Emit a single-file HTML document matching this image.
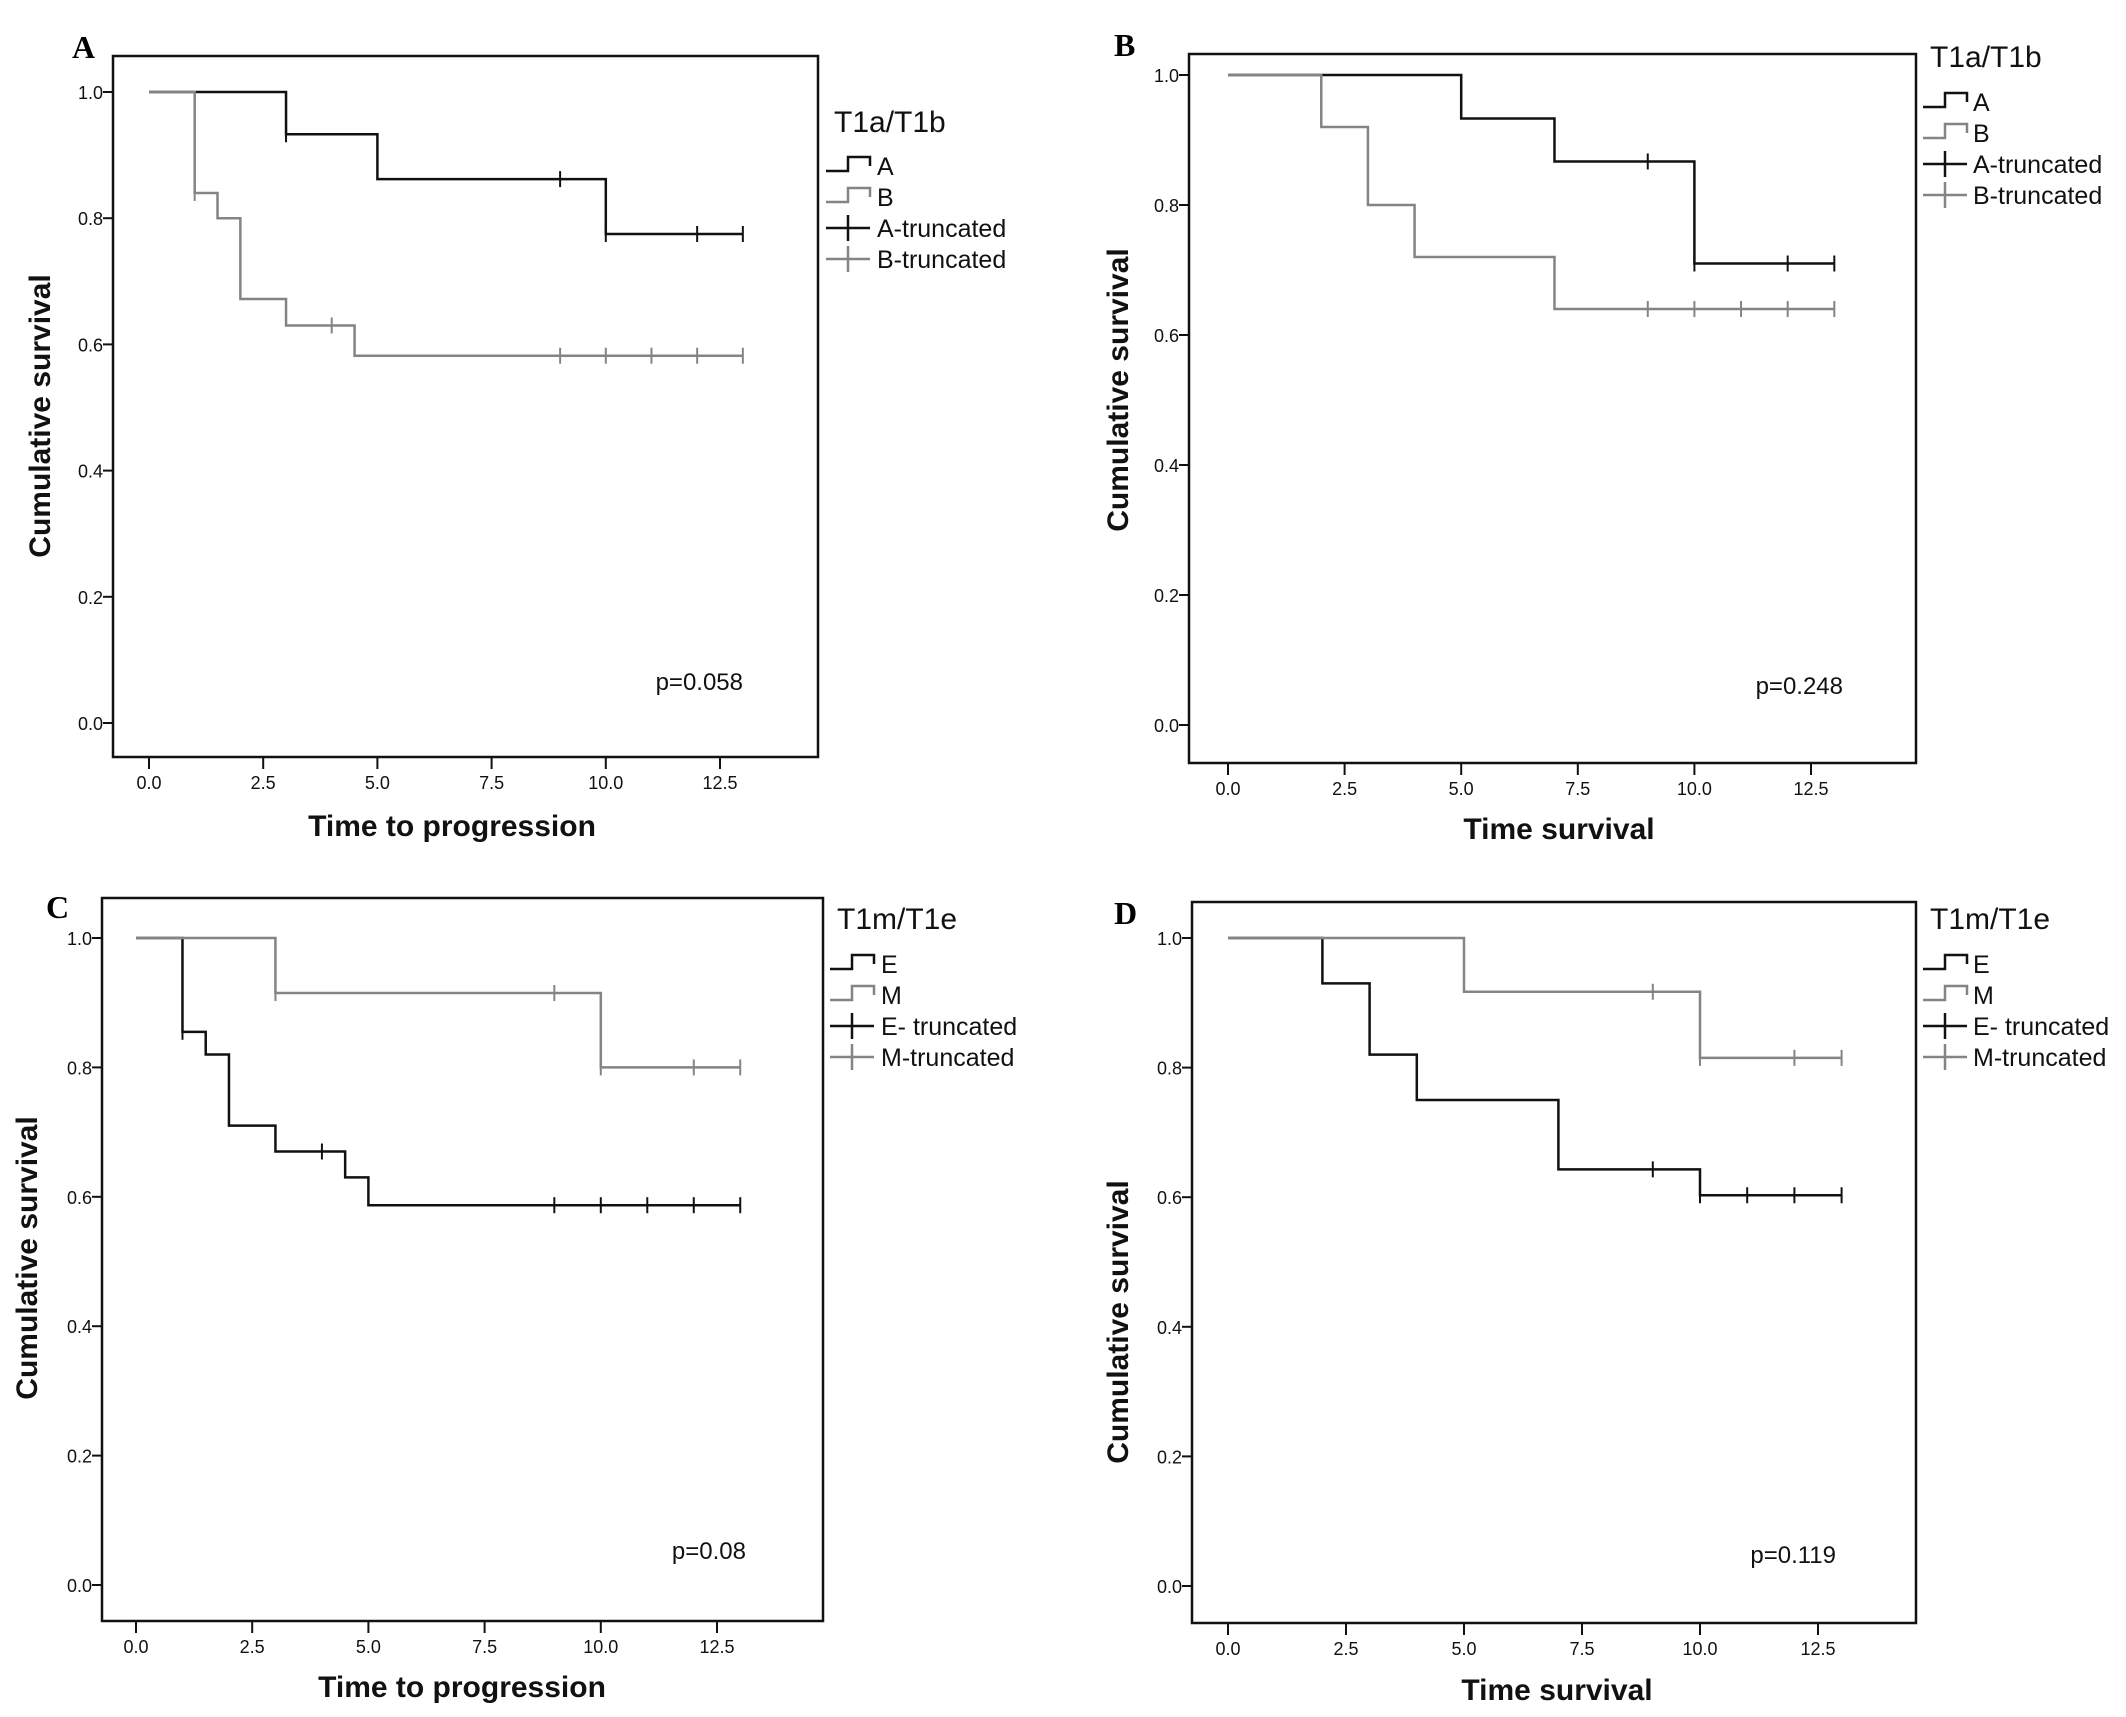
<!DOCTYPE html>
<html><head><meta charset="utf-8"><style>
body{margin:0;background:#fff;}
svg{display:block;font-family:"Liberation Sans",Arial,sans-serif;}
</style></head><body>
<svg id="fig" width="2126" height="1717" viewBox="0 0 2126 1717" xmlns="http://www.w3.org/2000/svg"></svg>
<script>
// Panel A data
const aA_t=[3,5,10];      const aA_s=[0.933,0.862,0.775];  const aA_c=[3,9,10,12,13];
const aB_t=[1,1.5,2,3,4.5]; const aB_s=[0.84,0.80,0.672,0.63,0.582]; const aB_c=[1,4,9,10,11,12,13];
// Panel B data
const bA_t=[5,7,10];      const bA_s=[0.933,0.867,0.71];   const bA_c=[9,10,12,13];
const bB_t=[2,3,4,7];     const bB_s=[0.92,0.80,0.72,0.64]; const bB_c=[9,10,11,12,13];
// Panel C data
const cE_t=[1,1.5,2,3,4.5,5]; const cE_s=[0.855,0.82,0.71,0.67,0.63,0.587]; const cE_c=[1,4,9,10,11,12,13];
const cM_t=[3,10];        const cM_s=[0.915,0.80];         const cM_c=[3,9,10,12,13];
// Panel D data
const dE_t=[2,3,4,7,10];  const dE_s=[0.93,0.82,0.75,0.643,0.603]; const dE_c=[9,10,11,12,13];
const dM_t=[5,10];        const dM_s=[0.917,0.815];        const dM_c=[9,10,12,13];
const xTicks=[0,2.5,5,7.5,10,12.5];
const xTickLabels=["0.0","2.5","5.0","7.5","10.0","12.5"];
const yTicks=[0,0.2,0.4,0.6,0.8,1.0];
const yTickLabels=["0.0","0.2","0.4","0.6","0.8","1.0"];

const BLACK="#111", GRAY="#848484";
const NS="http://www.w3.org/2000/svg";
const svg=document.getElementById('fig');
function el(tag,attrs,parent,text){const e=document.createElementNS(NS,tag);for(const k in attrs)e.setAttribute(k,attrs[k]);if(text!==undefined)e.textContent=text;(parent||svg).appendChild(e);return e;}

const panels=[
 {key:'a',letter:'A',lx:72,ly:58,fx:113,fy:56,fr:818,fb:757,x0:149,x125:720,y1:92,y0:723,
  title:'T1a/T1b',ltx:834,lty:132,lsx:826,lentry:175,ltext:877,p:'p=0.058',px:743,py:690,
  yt:'Cumulative survival',ytx:42,yty:416,xt:'Time to progression',xtx:452,xty:836,
  series:[{name:'A',t:aA_t,s:aA_s,c:aA_c,col:BLACK},{name:'B',t:aB_t,s:aB_s,c:aB_c,col:GRAY}]},
 {key:'b',letter:'B',lx:1114,ly:56,fx:1189,fy:54,fr:1916,fb:763,x0:1228,x125:1811,y1:75,y0:725,
  title:'T1a/T1b',ltx:1930,lty:67,lsx:1923,lentry:111,ltext:1973,p:'p=0.248',px:1843,py:694,
  yt:'Cumulative survival',ytx:1120,yty:390,xt:'Time survival',xtx:1559,xty:839,
  series:[{name:'A',t:bA_t,s:bA_s,c:bA_c,col:BLACK},{name:'B',t:bB_t,s:bB_s,c:bB_c,col:GRAY}]},
 {key:'c',letter:'C',lx:46,ly:918,fx:102,fy:898,fr:823,fb:1621,x0:136,x125:717,y1:938,y0:1585,
  title:'T1m/T1e',ltx:837,lty:929,lsx:830,lentry:973,ltext:881,p:'p=0.08',px:746,py:1559,
  yt:'Cumulative survival',ytx:29,yty:1258,xt:'Time to progression',xtx:462,xty:1697,
  series:[{name:'E',t:cE_t,s:cE_s,c:cE_c,col:BLACK},{name:'M',t:cM_t,s:cM_s,c:cM_c,col:GRAY}]},
 {key:'d',letter:'D',lx:1114,ly:924,fx:1192,fy:902,fr:1916,fb:1623,x0:1228,x125:1818,y1:938,y0:1586,
  title:'T1m/T1e',ltx:1930,lty:929,lsx:1923,lentry:973,ltext:1973,p:'p=0.119',px:1836,py:1563,
  yt:'Cumulative survival',ytx:1120,yty:1322,xt:'Time survival',xtx:1557,xty:1700,
  series:[{name:'E',t:dE_t,s:dE_s,c:dE_c,col:BLACK},{name:'M',t:dM_t,s:dM_s,c:dM_c,col:GRAY}]}
];

panels.forEach(P=>{
  const g=el('g',{});
  
  
  const X=v=>P.x0+(P.x125-P.x0)*v/12.5;
  const Y=v=>P.y0+(P.y1-P.y0)*v;
  const lt=el('text',{x:P.lx,y:P.ly,'font-family':'"Liberation Serif",serif','font-weight':'bold','font-size':32,fill:'#000'},g,P.letter);
  
  
  const fr=el('rect',{x:P.fx,y:P.fy,width:P.fr-P.fx,height:P.fb-P.fy,fill:'none',stroke:'#111','stroke-width':2.5},g);
  
  
  xTicks.forEach((v,i)=>{
    el('line',{x1:X(v),x2:X(v),y1:P.fb,y2:P.fb+12,stroke:'#111','stroke-width':2},g);
    const t=el('text',{x:X(v),y:P.fb+32,'text-anchor':'middle','font-size':18,fill:'#111'},g,xTickLabels[i]);
    
    
  });
  yTicks.forEach((v,i)=>{
    el('line',{x1:P.fx-10,x2:P.fx,y1:Y(v),y2:Y(v),stroke:'#111','stroke-width':2},g);
    const t=el('text',{x:P.fx-10,y:Y(v)+7,'text-anchor':'end','font-size':18,fill:'#111'},g,yTickLabels[i]);
    
    
  });
  P.series.forEach(S=>{
    let d='M'+X(0)+','+Y(1);
    S.t.forEach((tt,i)=>{d+=' H'+X(tt)+' V'+Y(S.s[i]);});
    const last=Math.max(...S.c,...S.t);
    d+=' H'+X(last);
    const p=el('path',{d:d,fill:'none',stroke:S.col,'stroke-width':2.5},g);
    
    
    S.c.forEach(ct=>{
      let sv=1; S.t.forEach((tt,i)=>{if(tt<=ct)sv=S.s[i];});
      const m=el('line',{x1:X(ct),x2:X(ct),y1:Y(sv)-8,y2:Y(sv)+8,stroke:S.col,'stroke-width':2},g);
      
      
    });
  });
  const tt=el('text',{x:P.ltx,y:P.lty,'font-size':30,fill:'#111'},g,P.title);
  
  
  const cd=(P.key==='c'||P.key==='d');
  const entries=[
    {lab:P.series[0].name,col:BLACK,type:'step'},{lab:P.series[1].name,col:GRAY,type:'step'},
    {lab:P.series[0].name+(cd?'- truncated':'-truncated'),col:BLACK,type:'cross'},
    {lab:P.series[1].name+'-truncated',col:GRAY,type:'cross'}];
  entries.forEach((e,i)=>{
    const by=P.lentry+i*31, cy=by-9, sx=P.lsx;
    const lg=el('g',{},g);
    
    
    if(e.type==='step'){
      el('path',{d:`M${sx},${cy+5} H${sx+22} V${cy-9} H${sx+44} V${cy}`,fill:'none',stroke:e.col,'stroke-width':2.5},lg);
    }else{
      el('line',{x1:sx,x2:sx+44,y1:cy,y2:cy,stroke:e.col,'stroke-width':2.5},lg);
      el('line',{x1:sx+22,x2:sx+22,y1:cy-13,y2:cy+13,stroke:e.col,'stroke-width':2.5},lg);
    }
    el('text',{x:P.ltext,y:by,'font-size':25,fill:'#111'},lg,e.lab);
  });
  const pv=el('text',{x:P.px,y:P.py,'text-anchor':'end','font-size':24,fill:'#111'},g,P.p);
  
  
  const yt=el('text',{x:P.ytx,y:P.yty,'text-anchor':'middle','font-size':30,'font-weight':'bold',fill:'#111',transform:`rotate(-90 ${P.ytx} ${P.yty})`,'dominant-baseline':'middle'},g,P.yt);
  
  
  const xt=el('text',{x:P.xtx,y:P.xty,'text-anchor':'middle','font-size':30,'font-weight':'bold',fill:'#111'},g,P.xt);
  
  
});
</script>
</body></html>
